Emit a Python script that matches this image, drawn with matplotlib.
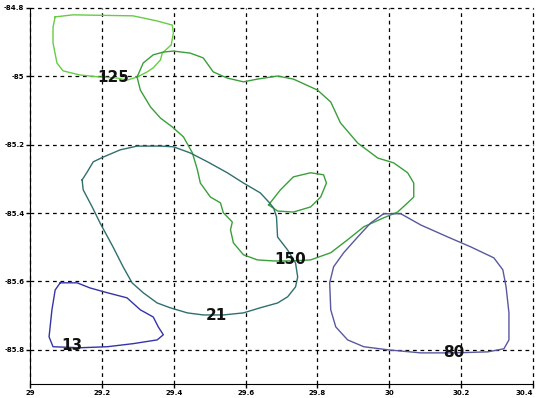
import matplotlib
matplotlib.use("Agg")
import matplotlib.pyplot as plt

# contour lines (longitude, latitude)
c125_x = [29.070, 29.120, 29.287, 29.354, 29.396, 29.399, 29.393, 29.368, 29.363, 29.343,
          29.326, 29.298, 29.270, 29.243, 29.195, 29.139, 29.092, 29.075, 29.064, 29.064, 29.070]
c125_y = [-84.826, -84.820, -84.823, -84.838, -84.850, -84.873, -84.908, -84.932, -84.952, -84.975,
          -84.987, -85.002, -85.011, -85.005, -85.002, -84.996, -84.984, -84.961, -84.902, -84.856, -84.826]

c150_x = [29.298, 29.315, 29.343, 29.371, 29.399, 29.446, 29.482, 29.510, 29.549, 29.594,
          29.633, 29.689, 29.733, 29.800, 29.837, 29.864, 29.912, 29.968, 30.012, 30.051,
          30.068, 30.068, 30.051, 30.023, 29.984, 29.929, 29.884, 29.837, 29.781, 29.725,
          29.678, 29.633, 29.594, 29.566, 29.558, 29.563, 29.538, 29.530, 29.502, 29.474,
          29.466, 29.452, 29.427, 29.396, 29.363, 29.335, 29.307, 29.298]
c150_y = [-85.002, -84.961, -84.937, -84.929, -84.926, -84.932, -84.946, -84.987, -85.005, -85.016,
          -85.008, -84.999, -85.008, -85.040, -85.075, -85.136, -85.195, -85.239, -85.253, -85.282,
          -85.312, -85.353, -85.370, -85.397, -85.414, -85.440, -85.478, -85.516, -85.537, -85.540,
          -85.540, -85.537, -85.522, -85.487, -85.449, -85.426, -85.399, -85.370, -85.353, -85.312,
          -85.274, -85.224, -85.177, -85.148, -85.122, -85.089, -85.040, -85.002]

c150b_x = [29.664, 29.697, 29.733, 29.781, 29.817, 29.825, 29.809, 29.781, 29.733, 29.689, 29.664]
c150b_y = [-85.376, -85.332, -85.294, -85.282, -85.288, -85.312, -85.353, -85.382, -85.397, -85.394, -85.376]

c21_x = [29.145, 29.159, 29.176, 29.204, 29.251, 29.298, 29.363, 29.399, 29.446, 29.494,
         29.549, 29.594, 29.641, 29.664, 29.678, 29.686, 29.689, 29.717, 29.739, 29.745,
         29.739, 29.717, 29.689, 29.641, 29.594, 29.538, 29.482, 29.438, 29.390, 29.354,
         29.315, 29.284, 29.259, 29.231, 29.195, 29.173, 29.148, 29.145]
c21_y = [-85.303, -85.280, -85.250, -85.236, -85.215, -85.204, -85.204, -85.206, -85.224, -85.250,
         -85.282, -85.312, -85.341, -85.367, -85.385, -85.411, -85.470, -85.508, -85.546, -85.587,
         -85.616, -85.645, -85.663, -85.677, -85.692, -85.698, -85.698, -85.692, -85.677, -85.663,
         -85.633, -85.604, -85.557, -85.499, -85.429, -85.382, -85.332, -85.303]

c13_x = [29.084, 29.131, 29.167, 29.215, 29.270, 29.307, 29.343, 29.357, 29.371, 29.354,
         29.287, 29.215, 29.139, 29.064, 29.053, 29.061, 29.070, 29.084]
c13_y = [-85.604, -85.604, -85.619, -85.633, -85.648, -85.683, -85.704, -85.733, -85.756, -85.771,
         -85.782, -85.791, -85.794, -85.791, -85.762, -85.683, -85.625, -85.604]

c80_x = [29.984, 30.032, 30.088, 30.163, 30.227, 30.291, 30.316, 30.325, 30.333, 30.333,
         30.319, 30.274, 30.180, 30.088, 29.996, 29.929, 29.884, 29.851, 29.837, 29.834,
         29.845, 29.873, 29.912, 29.948, 29.984]
c80_y = [-85.402, -85.402, -85.435, -85.470, -85.499, -85.531, -85.566, -85.616, -85.692, -85.771,
         -85.797, -85.806, -85.809, -85.809, -85.800, -85.791, -85.771, -85.733, -85.683, -85.604,
         -85.557, -85.516, -85.470, -85.429, -85.402]

labels = ["125", "150", "21", "13", "80"]
label_x = [29.231, 29.725, 29.519, 29.117, 30.180]
label_y = [-85.002, -85.537, -85.701, -85.788, -85.809]

xticks = [29, 29.2, 29.4, 29.6, 29.8, 30, 30.2, 30.4]
yticks = [-84.8, -85, -85.2, -85.4, -85.6, -85.8]

fig = plt.figure(figsize=(5.37, 3.98), dpi=100)
ax = fig.add_axes([0.0559, 0.0352, 0.9367, 0.9447])

ax.plot(c125_x, c125_y, color="#66cc44", lw=1)
ax.plot(c150_x, c150_y, color="#3a9f3a", lw=1)
ax.plot(c150b_x, c150b_y, color="#3a9f3a", lw=1)
ax.plot(c21_x, c21_y, color="#2f6f6f", lw=1)
ax.plot(c13_x, c13_y, color="#3434a8", lw=1)
ax.plot(c80_x, c80_y, color="#5858a0", lw=1)

for t, x, y in zip(labels, label_x, label_y):
    ax.text(x, y, t, ha="center", va="center", fontsize=11, fontweight="bold",
            color="#111111", zorder=5)

ax.set_xlim(29, 30.4)
ax.set_ylim(-85.9, -84.8)
ax.set_xticks(xticks)
ax.set_yticks(yticks)
ax.set_xticklabels([str(v) for v in xticks], fontsize=5, fontweight="bold")
ax.set_yticklabels([str(v) for v in yticks], fontsize=5, fontweight="bold")
ax.get_xticklabels()[-1].set_horizontalalignment("right")
ax.tick_params(direction="out", length=3, width=1, pad=1)
ax.grid(True, color="black", linestyle=(0, (3, 3)), linewidth=0.9)
ax.spines["top"].set_visible(False)
ax.spines["right"].set_visible(False)
for gl in ax.get_xgridlines() + ax.get_ygridlines():
    gl.set_clip_on(False)

fig.savefig("out.png", dpi=100)
